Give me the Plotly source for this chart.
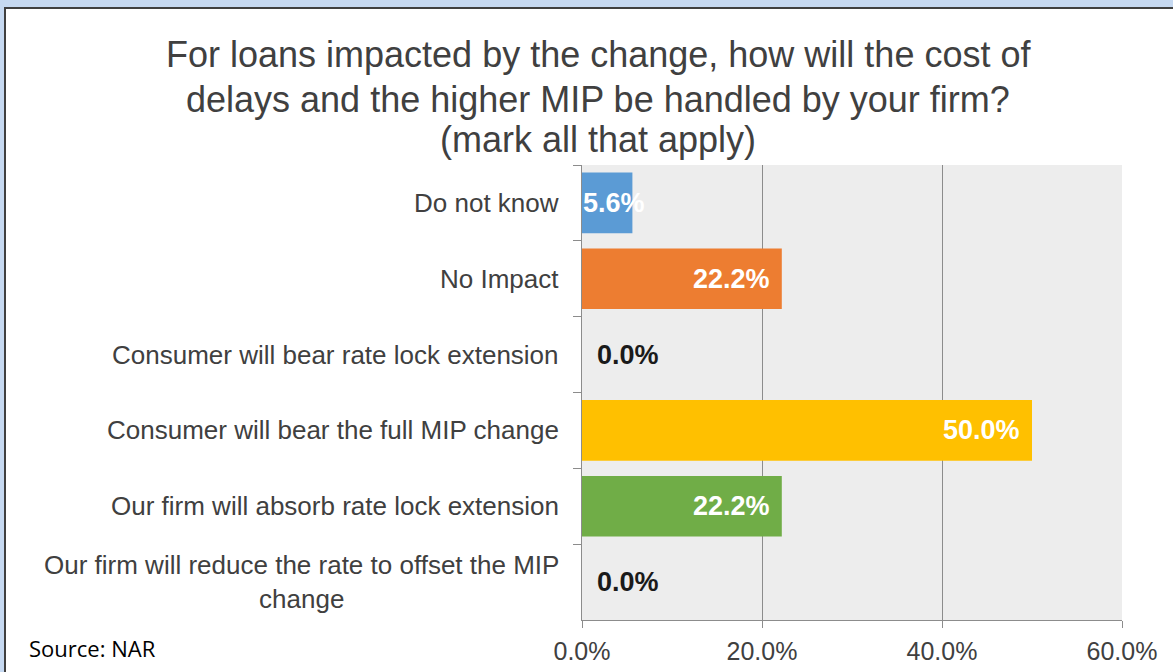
import plotly.graph_objects as go

categories = [
    "Do not know",
    "No Impact",
    "Consumer will bear rate lock extension",
    "Consumer will bear the full MIP change",
    "Our firm will absorb rate lock extension",
    "Our firm will reduce the rate to offset the MIP<br>change",
]
values = [5.6, 22.2, 0.0, 50.0, 22.2, 0.0]
bar_colors = ["#5B9BD5", "#ED7D31", "#A5A5A5", "#FFC000", "#70AD47", "#4472C4"]
x_ticks = [0, 20, 40, 60]
x_tick_labels = ["0.0%", "20.0%", "40.0%", "60.0%"]
title_lines = ["For loans impacted by the change, how will the cost of",
               "delays and the higher MIP be handled by your firm?",
               "(mark all that apply)"]
source_text = "Source: NAR"

W, H = 1173, 672
L, R, T, B = 582, 51, 165, 52
pw, ph = W - L - R, H - T - B


def px_x(p):
    return (p - L) / pw


def px_y(p):
    return (H - B - p) / ph


fig = go.Figure()
fig.add_trace(go.Bar(
    y=categories, x=values, orientation="h",
    marker=dict(color=bar_colors, line=dict(width=0)),
    width=0.8, hoverinfo="skip",
))

annotations = []
for c, v in zip(categories, values):
    annotations.append(dict(
        x=0, xref="paper", y=c, yref="y", text=c, showarrow=False,
        xanchor="right", yanchor="middle", xshift=-21, align="center",
        font=dict(family="Liberation Sans, Arial", size=26, color="#404040"),
    ))
    lab = f"{v:.1f}%"
    if v == 0:
        annotations.append(dict(x=0, xref="x", y=c, yref="y", text=lab, showarrow=False,
                                xanchor="left", xshift=13,
                                font=dict(family="Liberation Sans, Arial", size=27,
                                          color="#1a1a1a", weight="bold")))
    elif v < 10:
        annotations.append(dict(x=0, xref="x", y=c, yref="y", text=lab, showarrow=False,
                                xanchor="left", xshift=-1,
                                font=dict(family="Liberation Sans, Arial", size=27,
                                          color="white", weight="bold")))
    else:
        annotations.append(dict(x=v, xref="x", y=c, yref="y", text=lab, showarrow=False,
                                xanchor="right", xshift=-10,
                                font=dict(family="Liberation Sans, Arial", size=27,
                                          color="white", weight="bold")))

annotations.append(dict(
    x=px_x(27), xref="paper", y=px_y(648), yref="paper", text=source_text,
    showarrow=False, xanchor="left", yanchor="middle",
    font=dict(family="Open Sans, Noto Sans", size=22, color="#000000"),
))

for line, yc in zip(title_lines, [55, 99, 139]):
    annotations.append(dict(
        x=px_x(598), xref="paper", y=px_y(yc), yref="paper", text=line,
        showarrow=False, xanchor="center", yanchor="middle", align="center",
        font=dict(family="Liberation Sans, Arial", size=36, color="#404040"),
    ))

shapes = [
    dict(type="rect", xref="paper", yref="paper", layer="below",
         x0=px_x(5), x1=px_x(1190), y0=px_y(700), y1=px_y(8),
         fillcolor="white", line=dict(color="#404040", width=2)),
    dict(type="rect", xref="paper", yref="paper", layer="below",
         x0=0, x1=1, y0=0, y1=1, fillcolor="#EDEDED", line=dict(width=0)),
]

fig.update_layout(
    width=W, height=H,
    margin=dict(l=L, r=R, t=T, b=B, pad=0, autoexpand=False),
    paper_bgcolor="#C6D9F1",
    plot_bgcolor="#EDEDED",
    showlegend=False,
    xaxis=dict(range=[0, 60], tickvals=x_ticks, ticktext=x_tick_labels,
               showgrid=True, gridcolor="#8C8C8C", gridwidth=1,
               showline=True, linecolor="#8C8C8C", linewidth=1,
               ticks="outside", ticklen=7, tickcolor="#8C8C8C",
               zeroline=False, fixedrange=True, ticklabelstandoff=2, automargin=False,
               tickfont=dict(family="Liberation Sans, Arial", size=25, color="#404040")),
    yaxis=dict(type="category", autorange="reversed", showticklabels=False,
               showline=True, linecolor="#8C8C8C", linewidth=1,
               ticks="outside", ticklen=8, tickcolor="#8C8C8C", tickson="boundaries",
               showgrid=False, zeroline=False, fixedrange=True, automargin=False),
    annotations=annotations,
    shapes=shapes,
    bargap=0.2,
)

fig.write_html("out.html")
